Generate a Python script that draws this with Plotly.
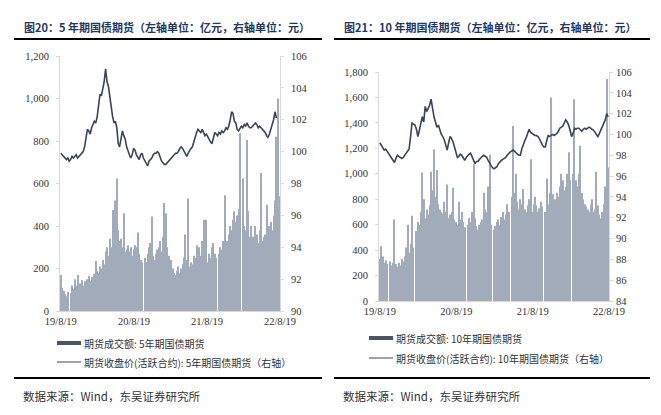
import pandas as pd
import plotly.graph_objects as go

# ---------------- data ----------------
weeks = pd.date_range("2019-08-19", periods=157, freq="7D")
x_tick_vals = ["2019-08-19", "2020-08-19", "2021-08-19", "2022-08-19"]
x_tick_text = ["19/8/19", "20/8/19", "21/8/19", "22/8/19"]

# 5-year bond futures: turnover (亿元, weekly samples)
tf_volume = [170, 110, 95, 80, 70, 90, None, 85, 120, 105, 150, 120, 170, 110, 130, 145, 120, 140, 130, 150,
             165, 140, 160, None, 175, 235, 190, 180, 210, 200, 240, 220, 280, 300, 260, 340, 300, 475, 360, 520,
             624, 380, 330, 340, 300, 460, 280, 290, 310, 280, 300, 260, 290, 310, 300, 370, 270, 240, 230, None,
             250, 230, 270, 300, 320, 445, 260, 240, 270, 290, 300, 330, 280, 350, 508, 460, 300, 260, None, 240,
             200, 180, 170, 190, 210, 180, 200, 220, 250, 360, 240, 530, 210, 230, 220, 260, 250, 310, 280, 300,
             260, 330, 430, 250, 430, 230, 270, 250, 300, 320, 270, 250, None, 270, 300, 290, 330, 545, 310, 330,
             360, 400, 380, 430, 470, 420, 450, 480, 837, None, 624, 400, 380, 805, 470, 350, 400, 350, 330, 400,
             360, 320, 380, 650, 330, 350, 360, 500, 340, 400, 420, 380, 450, 520, 820, 1000, 540]
# 5-year bond futures: close price of active contract (元)
tf_close = [99.9, 99.8, 99.7, 99.6, 99.5, 99.6, 99.4, 99.5, 99.7, 99.6, 99.7, 99.8, 99.6, 99.7, 99.8, 99.9, 100.0, 100.3, 100.9, 101.4,
            101.3, 101.1, 101.5, 101.7, 101.9, 101.8, 102.2, 102.9, 103.6, 103.5, 104.0, 104.4, 105.2, 104.4, 104.1, 103.4, 102.8, 102.2, 101.8, 101.9,
            101.5, 100.5, 100.3, 100.9, 101.3, 101.0, 100.8, 100.3, 100.0, 99.8, 99.6, 99.8, 100.2, 100.1, 99.8, 99.6, 99.5, 99.8, 99.9, 99.6,
            99.4, 99.3, 99.1, 99.4, 99.5, 99.6, 99.8, 99.9, 99.9, 100.0, 99.9, 99.6, 99.4, 99.3, 99.2, 99.2, 99.3, 99.4, 99.5, 99.6,
            99.7, 99.8, 99.9, 99.9, 100.0, 100.2, 100.3, 100.2, 100.0, 99.8, 99.7, 99.9, 100.1, 100.2, 100.3, 100.7, 100.9, 101.2, 101.4, 101.3,
            101.2, 101.4, 101.2, 101.0, 101.1, 100.9, 100.8, 100.6, 100.5, 100.9, 101.2, 101.1, 101.0, 101.2, 101.1, 101.3, 101.2, 101.3, 101.5, 101.4,
            101.6, 102.0, 102.5, 102.4, 101.9, 101.8, 101.4, 101.3, 101.5, 101.6, 101.5, 101.7, 101.6, 101.8, 101.6, 101.5, 101.5, 101.6, 101.7, 101.8,
            101.7, 101.5, 101.6, 101.5, 101.4, 101.3, 101.2, 101.0, 100.9, 101.1, 101.4, 101.6, 102.0, 102.5, 102.1]

# 10-year bond futures: turnover (亿元, weekly samples)
t_volume = [330, 430, 350, 300, 320, 290, None, 310, 280, 300, 640, 290, 270, 300, 280, 330, 310, 350, 420, 600,
            380, 450, 670, 420, None, 550, 620, 600, 700, 1010, 800, 650, 720, 680, 750, 1015, 870, 1190, 820, 1030,
            760, 720, 700, 690, 780, 700, 915, 650, 680, 700, 890, 640, 620, 600, 780, 640, 700, 620, 580, None,
            600, 650, 620, 700, 1075, 650, 590, 560, 600, 620, 640, 850, 720, 700, 900, 1150, 600, None, 560, 590,
            620, 640, 600, 660, 700, 640, 680, 760, 700, None, 820, 1376, 850, 1000, 780, 720, 800, 760, 880, 720,
            700, 750, 800, 1115, 700, 760, 820, 750, 700, 730, 780, 740, None, 700, 960, 760, 850, 1600, 840, 780,
            800, 850, 820, 900, 1000, 950, 870, 900, 1000, 1170, 950, None, 1000, 1585, 950, 900, 1000, 1220, 850, 800,
            760, 740, 720, 700, 760, 800, 700, 720, 1015, 750, 680, 650, 700, 760, 900, 1745, 1050]
# 10-year bond futures: close price of active contract (元)
t_close = [99.2, 99.0, 98.7, 98.5, 98.6, 98.4, 98.2, 98.0, 97.8, 97.5, 97.3, 97.7, 98.0, 97.9, 97.8, 97.7, 97.8, 98.0, 98.2, 98.4,
           98.6, 99.8, 101.1, 101.0, 100.9, 100.5, 99.8, 100.4, 101.0, 101.7, 101.2, 102.7, 102.2, 102.5, 102.8, 103.4, 102.5, 101.7, 101.2, 100.7,
           100.9, 100.3, 100.0, 99.8, 99.5, 99.0, 98.5, 99.2, 99.8, 99.6, 99.3, 98.8, 98.2, 97.8, 97.9, 98.1, 98.0, 97.7, 97.5, 97.8,
           98.0, 98.1, 98.2, 97.8, 97.5, 97.2, 97.4, 97.4, 97.6, 97.8, 97.9, 98.0, 97.9, 97.8, 97.5, 97.2, 97.0, 96.8, 96.7, 96.8,
           96.9, 97.2, 97.4, 97.5, 97.6, 97.7, 97.8, 98.0, 98.2, 98.3, 98.4, 98.5, 98.4, 98.2, 98.1, 98.0, 98.0, 98.6, 99.1, 99.4,
           99.7, 100.1, 100.5, 100.2, 100.1, 100.0, 99.9, 99.9, 99.8, 99.6, 99.2, 99.0, 98.8, 98.8, 99.4, 99.9, 99.8, 99.9, 100.0, 99.9,
           100.0, 100.1, 100.3, 100.6, 100.7, 100.8, 101.1, 101.4, 101.2, 100.9, 100.4, 99.8, 100.1, 100.6, 100.5, 100.6, 100.6, 100.4, 100.3, 100.5,
           100.6, 100.5, 100.6, 100.7, 100.6, 100.5, 100.4, 100.2, 100.0, 99.8, 100.1, 100.4, 100.8, 101.1, 101.4, 102.0, 101.7]

titles = ["图20：5 年期国债期货（左轴单位：亿元，右轴单位：元）",
          "图21：10 年期国债期货（左轴单位：亿元，右轴单位：元）"]
legend_bar = ["期货成交额: 5年期国债期货", "期货成交额: 10年期国债期货"]
legend_line = ["期货收盘价(活跃合约): 5年期国债期货（右轴）", "期货收盘价(活跃合约): 10年期国债期货（右轴）"]
source_text = "数据来源：Wind，东吴证券研究所"

# ---------------- styling ----------------
W, H = 661, 415
BAR_C = "#a2abb9"
LINE_C = "#3a4558"
SWATCH_C = "#4a5568"
AX_C = "#d9d9d9"
TICK_FONT = dict(family="Liberation Serif, Times New Roman, serif", size=10.5, color="#333333")
CJK = "Noto Sans CJK SC"

def px(x):
    return x / W

def py(y):
    return 1 - y / H

fig = go.Figure()
fig.add_trace(go.Bar(x=weeks, y=tf_volume, marker=dict(color=BAR_C, line=dict(width=0)),
                     xaxis="x", yaxis="y", showlegend=False, name=legend_bar[0]))
fig.add_trace(go.Scatter(x=weeks[:len(tf_close)], y=tf_close, mode="lines",
                         line=dict(color=LINE_C, width=1.6), xaxis="x", yaxis="y2",
                         showlegend=False, name=legend_line[0]))
fig.add_trace(go.Bar(x=weeks, y=t_volume, marker=dict(color=BAR_C, line=dict(width=0)),
                     xaxis="x2", yaxis="y3", showlegend=False, name=legend_bar[1]))
fig.add_trace(go.Scatter(x=weeks, y=t_close, mode="lines",
                         line=dict(color=LINE_C, width=1.6), xaxis="x2", yaxis="y4",
                         showlegend=False, name=legend_line[1]))

xcommon = dict(type="date", range=["2019-08-15", "2022-08-19"], tickvals=x_tick_vals,
               ticktext=x_tick_text, tickfont=TICK_FONT, showgrid=False, zeroline=False,
               showline=True, linecolor=AX_C, linewidth=1, ticks="", automargin=False)
ycommon = dict(showgrid=False, zeroline=False, showline=True, linecolor=AX_C, linewidth=1,
               ticks="outside", ticklen=3, tickcolor=AX_C, tickfont=TICK_FONT, automargin=False)

fig.update_layout(
    width=W, height=H, margin=dict(l=0, r=0, t=0, b=0, autoexpand=False),
    paper_bgcolor="white", plot_bgcolor="white",
    bargap=0.3, showlegend=False,
    xaxis=dict(domain=[px(60), px(280)], anchor="y", **xcommon),
    yaxis=dict(domain=[py(311), py(56)], anchor="x", range=[0, 1200], dtick=200, tickformat=",",
               ticklabelstandoff=5, **ycommon),
    yaxis2=dict(overlaying="y", anchor="x", side="right", range=[90, 106], dtick=2,
                ticklabelstandoff=5, **ycommon),
    xaxis2=dict(domain=[px(379), px(609)], anchor="y3", **xcommon),
    yaxis3=dict(domain=[py(301), py(72)], anchor="x2", range=[0, 1800], dtick=200, tickformat=",",
                ticklabelstandoff=5, **ycommon),
    yaxis4=dict(overlaying="y3", anchor="x2", side="right", range=[84, 106], dtick=2,
                ticklabelstandoff=1, **ycommon),
)

shapes = []
annotations = []
panels = [
    dict(x0=14, x1=322, tx=22, leg_x=57, leg_y=(343, 362)),
    dict(x0=334, x1=650, tx=342, leg_x=369, leg_y=(338, 358)),
]
for k, p in enumerate(panels):
    # title
    annotations.append(dict(x=px(p["tx"]), y=py(27), xref="paper", yref="paper", xanchor="left",
                            yanchor="middle", showarrow=False, text="<b>" + titles[k] + "</b>",
                            font=dict(family=CJK, size=11, color="#1f3864")))
    # rules
    for yy in (39, 378):
        shapes.append(dict(type="line", xref="paper", yref="paper", x0=px(p["x0"]), x1=px(p["x1"]),
                           y0=py(yy), y1=py(yy), line=dict(color="black", width=2.2)))
    # legend swatches
    ly1, ly2 = p["leg_y"]
    shapes.append(dict(type="rect", xref="paper", yref="paper", x0=px(p["leg_x"]), x1=px(p["leg_x"] + 24),
                       y0=py(ly1 + 2), y1=py(ly1 - 2), fillcolor=SWATCH_C, line=dict(width=0)))
    shapes.append(dict(type="line", xref="paper", yref="paper", x0=px(p["leg_x"]), x1=px(p["leg_x"] + 24),
                       y0=py(ly2), y1=py(ly2), line=dict(color=LINE_C, width=1)))
    for yy, txt in ((ly1, legend_bar[k]), (ly2, legend_line[k])):
        annotations.append(dict(x=px(p["leg_x"] + 25), y=py(yy), xref="paper", yref="paper", xanchor="left",
                                yanchor="middle", showarrow=False, text=txt,
                                font=dict(family=CJK, size=10, color="#333333")))
    # source
    annotations.append(dict(x=px(p["tx"] - 1), y=py(396), xref="paper", yref="paper", xanchor="left",
                            yanchor="middle", showarrow=False, text=source_text,
                            font=dict(family=CJK, size=11.5, color="#333333")))

fig.update_layout(shapes=shapes, annotations=annotations)
fig.write_html("out.html")
